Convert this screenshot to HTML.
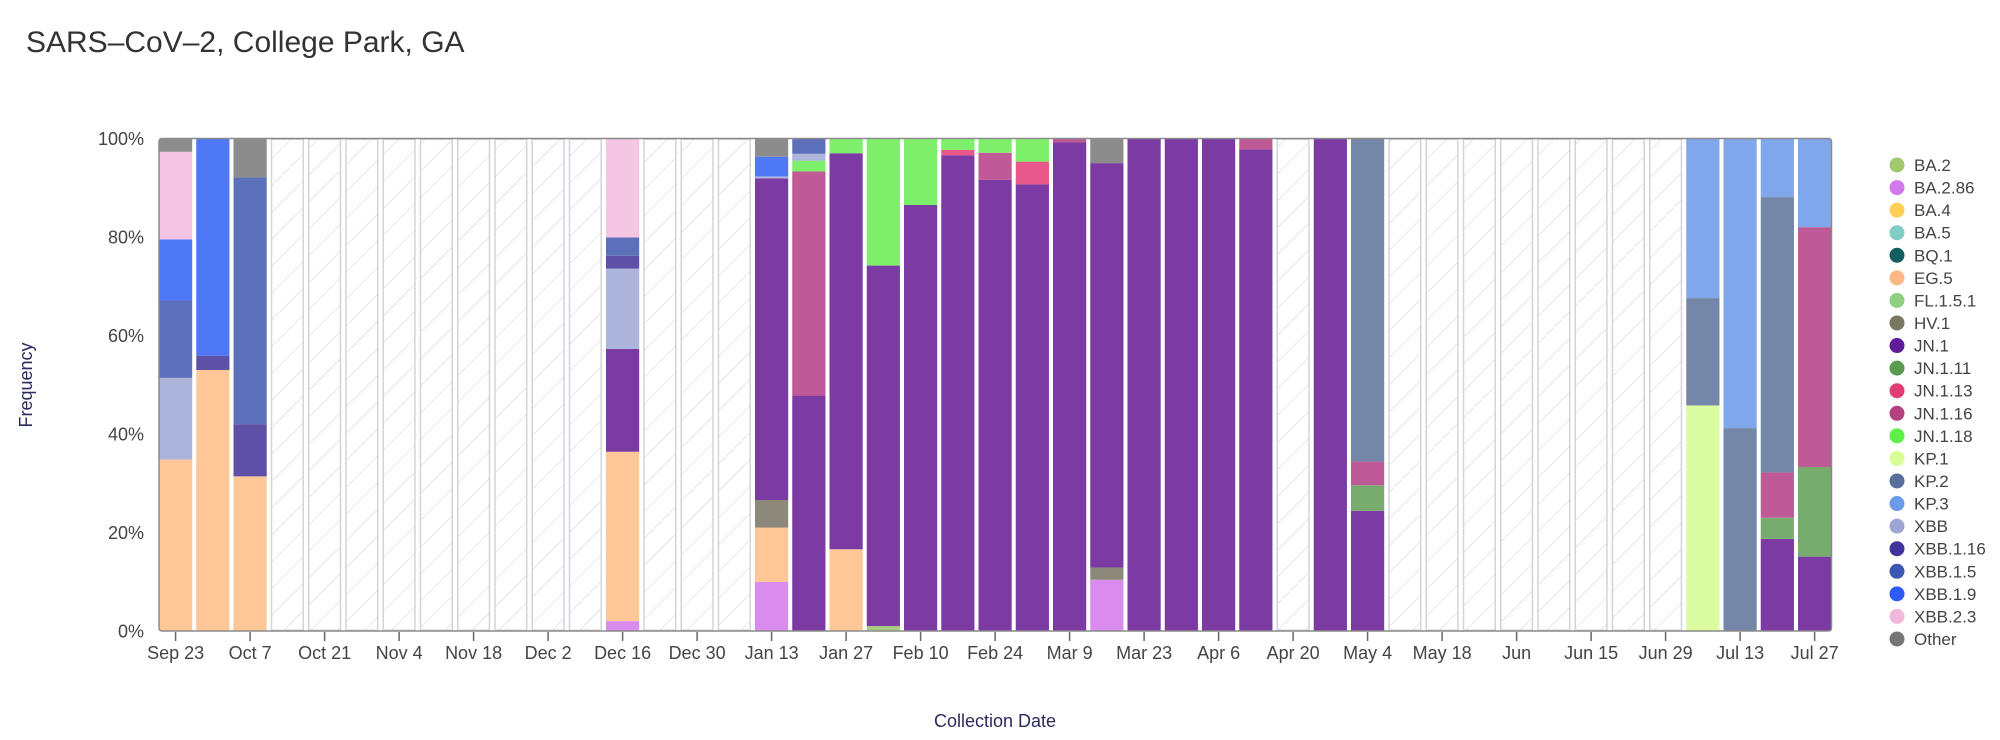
<!DOCTYPE html>
<html>
<head>
<meta charset="utf-8">
<style>
html,body{margin:0;padding:0;background:#fff;}
svg{display:block;}
text{font-family:"Liberation Sans",Arial,sans-serif;}
.oth{fill:#8c8c8c}.x23{fill:#f4c6e3}.x19{fill:#4f78f7}.x15{fill:#5c70ba}.xbb{fill:#adb5dc}
.x116{fill:#5e4fa7}.eg5{fill:#fdc797}.jn1{fill:#7b3ba3}.b286{fill:#d98bee}.hv1{fill:#8c897b}
.j118{fill:#7def6a}.j116{fill:#c05a96}.j113{fill:#e8588a}.ba2{fill:#a8cc80}.kp2{fill:#7587a8}
.kp3{fill:#7fa7ea}.kp1{fill:#dbfd9f}.j111{fill:#77ac6e}
.emp{fill:url(#hatch);stroke:#d3d3da;stroke-width:1.5}
.tl{font-size:18px;fill:#444;text-anchor:middle}
.yl{font-size:18px;fill:#444;text-anchor:end}
.lg{font-size:17px;fill:#444}
</style>
</head>
<body>
<svg width="2000" height="740" viewBox="0 0 2000 740" xmlns="http://www.w3.org/2000/svg">
<defs>
<pattern id="hatch" patternUnits="userSpaceOnUse" width="19" height="19" patternTransform="rotate(45)">
<line x1="0" y1="0" x2="0" y2="19" stroke="#d6d6d6" stroke-width="1.2"/>
</pattern>
</defs>
<rect width="2000" height="740" fill="#fff"/>
<text x="26" y="52" style="font-size:30px;fill:#333">SARS–CoV–2, College Park, GA</text>

<!-- empty slots -->
<g>
<rect class="emp" x="271.5" y="139.25" width="31.7" height="491"/>
<rect class="emp" x="308.75" y="139.25" width="31.7" height="491"/>
<rect class="emp" x="346" y="139.25" width="31.7" height="491"/>
<rect class="emp" x="383.25" y="139.25" width="31.7" height="491"/>
<rect class="emp" x="420.5" y="139.25" width="31.7" height="491"/>
<rect class="emp" x="457.75" y="139.25" width="31.7" height="491"/>
<rect class="emp" x="495" y="139.25" width="31.7" height="491"/>
<rect class="emp" x="532.25" y="139.25" width="31.7" height="491"/>
<rect class="emp" x="569.5" y="139.25" width="31.7" height="491"/>
<rect class="emp" x="644" y="139.25" width="31.7" height="491"/>
<rect class="emp" x="681.25" y="139.25" width="31.7" height="491"/>
<rect class="emp" x="718.5" y="139.25" width="31.7" height="491"/>
<rect class="emp" x="1277.25" y="139.25" width="31.7" height="491"/>
<rect class="emp" x="1389" y="139.25" width="31.7" height="491"/>
<rect class="emp" x="1426.25" y="139.25" width="31.7" height="491"/>
<rect class="emp" x="1463.5" y="139.25" width="31.7" height="491"/>
<rect class="emp" x="1500.75" y="139.25" width="31.7" height="491"/>
<rect class="emp" x="1538" y="139.25" width="31.7" height="491"/>
<rect class="emp" x="1575.25" y="139.25" width="31.7" height="491"/>
<rect class="emp" x="1612.5" y="139.25" width="31.7" height="491"/>
<rect class="emp" x="1649.75" y="139.25" width="31.7" height="491"/>
</g>

<!-- bars: local y is percent, bottom at 631 -->
<g transform="translate(0,631) scale(1,-4.925)">
<!-- w0 Sep 23 -->
<rect class="eg5" x="159" y="0" width="33.2" height="34.8"/>
<rect class="xbb" x="159" y="34.8" width="33.2" height="16.6"/>
<rect class="x15" x="159" y="51.4" width="33.2" height="15.7"/>
<rect class="x19" x="159" y="67.1" width="33.2" height="12.4"/>
<rect class="x23" x="159" y="79.5" width="33.2" height="17.8"/>
<rect class="oth" x="159" y="97.3" width="33.2" height="2.7"/>
<!-- w1 -->
<rect class="eg5" x="196.25" y="0" width="33.2" height="53"/>
<rect class="x116" x="196.25" y="53" width="33.2" height="2.9"/>
<rect class="x19" x="196.25" y="55.9" width="33.2" height="44.1"/>
<!-- w2 -->
<rect class="eg5" x="233.5" y="0" width="33.2" height="31.4"/>
<rect class="x116" x="233.5" y="31.4" width="33.2" height="10.6"/>
<rect class="x15" x="233.5" y="42" width="33.2" height="50.1"/>
<rect class="oth" x="233.5" y="92.1" width="33.2" height="7.9"/>
<!-- w12 Dec 16 -->
<rect class="b286" x="606" y="0" width="33.2" height="2"/>
<rect class="eg5" x="606" y="2" width="33.2" height="34.4"/>
<rect class="jn1" x="606" y="36.4" width="33.2" height="20.9"/>
<rect class="xbb" x="606" y="57.3" width="33.2" height="16.3"/>
<rect class="x116" x="606" y="73.6" width="33.2" height="2.6"/>
<rect class="x15" x="606" y="76.2" width="33.2" height="3.7"/>
<rect class="x23" x="606" y="79.9" width="33.2" height="20.1"/>
<!-- w16 Jan 13 -->
<rect class="b286" x="755" y="0" width="33.2" height="9.95"/>
<rect class="eg5" x="755" y="9.95" width="33.2" height="11.05"/>
<rect class="hv1" x="755" y="21" width="33.2" height="5.6"/>
<rect class="jn1" x="755" y="26.6" width="33.2" height="65.3"/>
<rect class="xbb" x="755" y="91.9" width="33.2" height="0.4"/>
<rect class="x19" x="755" y="92.3" width="33.2" height="4"/>
<rect class="oth" x="755" y="96.3" width="33.2" height="3.7"/>
<!-- w17 -->
<rect class="jn1" x="792.25" y="0" width="33.2" height="47.8"/>
<rect class="j116" x="792.25" y="47.8" width="33.2" height="45.5"/>
<rect class="j118" x="792.25" y="93.3" width="33.2" height="2.2"/>
<rect class="xbb" x="792.25" y="95.5" width="33.2" height="1.4"/>
<rect class="x15" x="792.25" y="96.9" width="33.2" height="3.1"/>
<!-- w18 Jan 27 -->
<rect class="eg5" x="829.5" y="0" width="33.2" height="16.6"/>
<rect class="jn1" x="829.5" y="16.6" width="33.2" height="80.4"/>
<rect class="j118" x="829.5" y="97" width="33.2" height="3"/>
<!-- w19 -->
<rect class="ba2" x="866.75" y="0" width="33.2" height="1"/>
<rect class="jn1" x="866.75" y="1" width="33.2" height="73.2"/>
<rect class="j118" x="866.75" y="74.2" width="33.2" height="25.8"/>
<!-- w20 Feb 10 -->
<rect class="jn1" x="904" y="0" width="33.2" height="86.5"/>
<rect class="j118" x="904" y="86.5" width="33.2" height="13.5"/>
<!-- w21 -->
<rect class="jn1" x="941.25" y="0" width="33.2" height="96.6"/>
<rect class="j113" x="941.25" y="96.6" width="33.2" height="1.1"/>
<rect class="j118" x="941.25" y="97.7" width="33.2" height="2.3"/>
<!-- w22 Feb 24 -->
<rect class="jn1" x="978.5" y="0" width="33.2" height="91.6"/>
<rect class="j116" x="978.5" y="91.6" width="33.2" height="5.5"/>
<rect class="j118" x="978.5" y="97.1" width="33.2" height="2.9"/>
<!-- w23 -->
<rect class="jn1" x="1015.75" y="0" width="33.2" height="90.7"/>
<rect class="j113" x="1015.75" y="90.7" width="33.2" height="4.6"/>
<rect class="j118" x="1015.75" y="95.3" width="33.2" height="4.7"/>
<!-- w24 Mar 9 -->
<rect class="jn1" x="1053" y="0" width="33.2" height="99.2"/>
<rect class="j116" x="1053" y="99.2" width="33.2" height="0.8"/>
<!-- w25 -->
<rect class="b286" x="1090.25" y="0" width="33.2" height="10.4"/>
<rect class="hv1" x="1090.25" y="10.4" width="33.2" height="2.5"/>
<rect class="jn1" x="1090.25" y="12.9" width="33.2" height="82.1"/>
<rect class="oth" x="1090.25" y="95" width="33.2" height="5"/>
<!-- w26-28 -->
<rect class="jn1" x="1127.5" y="0" width="33.2" height="100"/>
<rect class="jn1" x="1164.75" y="0" width="33.2" height="100"/>
<rect class="jn1" x="1202" y="0" width="33.2" height="100"/>
<!-- w29 -->
<rect class="jn1" x="1239.25" y="0" width="33.2" height="97.8"/>
<rect class="j116" x="1239.25" y="97.8" width="33.2" height="2.2"/>
<!-- w31 -->
<rect class="jn1" x="1313.75" y="0" width="33.2" height="100"/>
<!-- w32 May 4 -->
<rect class="jn1" x="1351" y="0" width="33.2" height="24.4"/>
<rect class="j111" x="1351" y="24.4" width="33.2" height="5.2"/>
<rect class="j116" x="1351" y="29.6" width="33.2" height="4.8"/>
<rect class="kp2" x="1351" y="34.4" width="33.2" height="65.6"/>
<!-- w41 -->
<rect class="kp1" x="1686.25" y="0" width="33.2" height="45.8"/>
<rect class="kp2" x="1686.25" y="45.8" width="33.2" height="21.8"/>
<rect class="kp3" x="1686.25" y="67.6" width="33.2" height="32.4"/>
<!-- w42 Jul 13 -->
<rect class="kp2" x="1723.5" y="0" width="33.2" height="41.2"/>
<rect class="kp3" x="1723.5" y="41.2" width="33.2" height="58.8"/>
<!-- w43 -->
<rect class="jn1" x="1760.75" y="0" width="33.2" height="18.7"/>
<rect class="j111" x="1760.75" y="18.7" width="33.2" height="4.3"/>
<rect class="j116" x="1760.75" y="23" width="33.2" height="9.2"/>
<rect class="kp2" x="1760.75" y="32.2" width="33.2" height="55.9"/>
<rect class="kp3" x="1760.75" y="88.1" width="33.2" height="11.9"/>
<!-- w44 Jul 27 -->
<rect class="jn1" x="1798" y="0" width="33.2" height="15.1"/>
<rect class="j111" x="1798" y="15.1" width="33.2" height="18.2"/>
<rect class="j116" x="1798" y="33.3" width="33.2" height="48.7"/>
<rect class="kp3" x="1798" y="82" width="33.2" height="18"/>
</g>

<!-- frame -->
<rect x="159" y="138.5" width="1672.5" height="492.5" rx="3" ry="3" fill="none" stroke="#8a8a8a" stroke-width="1.5"/>

<!-- y labels -->
<text class="yl" x="144" y="637.5">0%</text>
<text class="yl" x="144" y="539">20%</text>
<text class="yl" x="144" y="440.5">40%</text>
<text class="yl" x="144" y="342">60%</text>
<text class="yl" x="144" y="243.5">80%</text>
<text class="yl" x="144" y="145">100%</text>

<!-- x ticks -->
<g stroke="#666" stroke-width="1.5">
<line x1="175.6" y1="632" x2="175.6" y2="641"/>
<line x1="250.1" y1="632" x2="250.1" y2="641"/>
<line x1="324.6" y1="632" x2="324.6" y2="641"/>
<line x1="399.1" y1="632" x2="399.1" y2="641"/>
<line x1="473.6" y1="632" x2="473.6" y2="641"/>
<line x1="548.1" y1="632" x2="548.1" y2="641"/>
<line x1="622.6" y1="632" x2="622.6" y2="641"/>
<line x1="697.1" y1="632" x2="697.1" y2="641"/>
<line x1="771.6" y1="632" x2="771.6" y2="641"/>
<line x1="846.1" y1="632" x2="846.1" y2="641"/>
<line x1="920.6" y1="632" x2="920.6" y2="641"/>
<line x1="995.1" y1="632" x2="995.1" y2="641"/>
<line x1="1069.6" y1="632" x2="1069.6" y2="641"/>
<line x1="1144.1" y1="632" x2="1144.1" y2="641"/>
<line x1="1218.6" y1="632" x2="1218.6" y2="641"/>
<line x1="1293.1" y1="632" x2="1293.1" y2="641"/>
<line x1="1367.6" y1="632" x2="1367.6" y2="641"/>
<line x1="1442.1" y1="632" x2="1442.1" y2="641"/>
<line x1="1516.6" y1="632" x2="1516.6" y2="641"/>
<line x1="1591.1" y1="632" x2="1591.1" y2="641"/>
<line x1="1665.6" y1="632" x2="1665.6" y2="641"/>
<line x1="1740.1" y1="632" x2="1740.1" y2="641"/>
<line x1="1814.6" y1="632" x2="1814.6" y2="641"/>
</g>
<g>
<text class="tl" x="175.6" y="659">Sep 23</text>
<text class="tl" x="250.1" y="659">Oct 7</text>
<text class="tl" x="324.6" y="659">Oct 21</text>
<text class="tl" x="399.1" y="659">Nov 4</text>
<text class="tl" x="473.6" y="659">Nov 18</text>
<text class="tl" x="548.1" y="659">Dec 2</text>
<text class="tl" x="622.6" y="659">Dec 16</text>
<text class="tl" x="697.1" y="659">Dec 30</text>
<text class="tl" x="771.6" y="659">Jan 13</text>
<text class="tl" x="846.1" y="659">Jan 27</text>
<text class="tl" x="920.6" y="659">Feb 10</text>
<text class="tl" x="995.1" y="659">Feb 24</text>
<text class="tl" x="1069.6" y="659">Mar 9</text>
<text class="tl" x="1144.1" y="659">Mar 23</text>
<text class="tl" x="1218.6" y="659">Apr 6</text>
<text class="tl" x="1293.1" y="659">Apr 20</text>
<text class="tl" x="1367.6" y="659">May 4</text>
<text class="tl" x="1442.1" y="659">May 18</text>
<text class="tl" x="1516.6" y="659">Jun</text>
<text class="tl" x="1591.1" y="659">Jun 15</text>
<text class="tl" x="1665.6" y="659">Jun 29</text>
<text class="tl" x="1740.1" y="659">Jul 13</text>
<text class="tl" x="1814.6" y="659">Jul 27</text>
</g>

<!-- axis titles -->
<text x="995" y="727" style="font-size:18px;fill:#2a2a5e;text-anchor:middle">Collection Date</text>
<text transform="translate(32,385) rotate(-90)" style="font-size:18px;fill:#2a2a5e;text-anchor:middle">Frequency</text>

<!-- legend -->
<g>
<circle cx="1897" cy="165" r="7.5" fill="#a0c86c"/><text class="lg" x="1914" y="171">BA.2</text>
<circle cx="1897" cy="187.57" r="7.5" fill="#d279ec"/><text class="lg" x="1914" y="193.57">BA.2.86</text>
<circle cx="1897" cy="210.14" r="7.5" fill="#ffd055"/><text class="lg" x="1914" y="216.14">BA.4</text>
<circle cx="1897" cy="232.71" r="7.5" fill="#7fcdc4"/><text class="lg" x="1914" y="238.71">BA.5</text>
<circle cx="1897" cy="255.28" r="7.5" fill="#145e62"/><text class="lg" x="1914" y="261.28">BQ.1</text>
<circle cx="1897" cy="277.85" r="7.5" fill="#ffb883"/><text class="lg" x="1914" y="283.85">EG.5</text>
<circle cx="1897" cy="300.42" r="7.5" fill="#8fcf80"/><text class="lg" x="1914" y="306.42">FL.1.5.1</text>
<circle cx="1897" cy="322.99" r="7.5" fill="#797662"/><text class="lg" x="1914" y="328.99">HV.1</text>
<circle cx="1897" cy="345.56" r="7.5" fill="#5e1c9a"/><text class="lg" x="1914" y="351.56">JN.1</text>
<circle cx="1897" cy="368.13" r="7.5" fill="#599b50"/><text class="lg" x="1914" y="374.13">JN.1.11</text>
<circle cx="1897" cy="390.7" r="7.5" fill="#e03e75"/><text class="lg" x="1914" y="396.7">JN.1.13</text>
<circle cx="1897" cy="413.27" r="7.5" fill="#b5417f"/><text class="lg" x="1914" y="419.27">JN.1.16</text>
<circle cx="1897" cy="435.84" r="7.5" fill="#5ef048"/><text class="lg" x="1914" y="441.84">JN.1.18</text>
<circle cx="1897" cy="458.41" r="7.5" fill="#d8ff97"/><text class="lg" x="1914" y="464.41">KP.1</text>
<circle cx="1897" cy="480.98" r="7.5" fill="#586f9b"/><text class="lg" x="1914" y="486.98">KP.2</text>
<circle cx="1897" cy="503.55" r="7.5" fill="#6a9bea"/><text class="lg" x="1914" y="509.55">KP.3</text>
<circle cx="1897" cy="526.12" r="7.5" fill="#9ea6d6"/><text class="lg" x="1914" y="532.12">XBB</text>
<circle cx="1897" cy="548.69" r="7.5" fill="#41339c"/><text class="lg" x="1914" y="554.69">XBB.1.16</text>
<circle cx="1897" cy="571.26" r="7.5" fill="#3c56b3"/><text class="lg" x="1914" y="577.26">XBB.1.5</text>
<circle cx="1897" cy="593.83" r="7.5" fill="#2e5cf7"/><text class="lg" x="1914" y="599.83">XBB.1.9</text>
<circle cx="1897" cy="616.4" r="7.5" fill="#f2b8da"/><text class="lg" x="1914" y="622.4">XBB.2.3</text>
<circle cx="1897" cy="638.97" r="7.5" fill="#767676"/><text class="lg" x="1914" y="644.97">Other</text>
</g>
</svg>
</body>
</html>
